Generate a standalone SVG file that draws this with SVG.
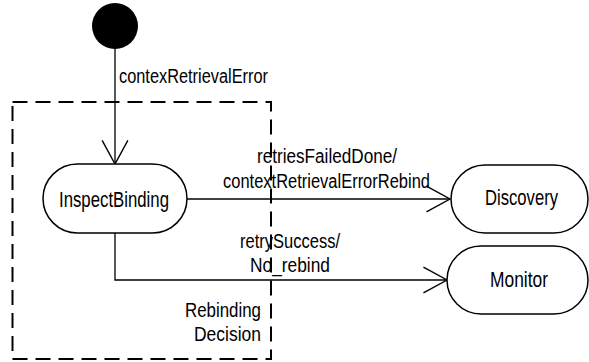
<svg xmlns="http://www.w3.org/2000/svg" width="589" height="362" viewBox="0 0 589 362">
<style>
  .node { fill: #fff; stroke: #000; stroke-width: 1.5; }
  .edge { fill: none; stroke: #000; stroke-width: 1.3; }
  .box { fill: none; stroke: #000; stroke-width: 2; stroke-dasharray: 15 8; }
  text { font-family: "Liberation Sans Narrow", "Liberation Sans", Arial, sans-serif; fill: #000; }
  .lbl { font-size: 19.5px; }
  .ntx { font-size: 22px; text-anchor: middle; }
</style>
<defs>
  <marker id="open" markerUnits="userSpaceOnUse" markerWidth="30" markerHeight="30" viewBox="-24 -14 26 28" refX="0" refY="0" orient="auto" overflow="visible">
    <path d="M -22 -12 L 0 0 L -22 12" fill="none" stroke="#000" stroke-width="1.3"/>
  </marker>
</defs>
<g id="rebinding-decision">
  <rect class="box" x="12.5" y="102" width="258.5" height="257"/>
  <text class="lbl" x="261" y="317" text-anchor="end" textLength="76" lengthAdjust="spacingAndGlyphs">Rebinding</text>
  <text class="lbl" x="261" y="341" text-anchor="end" textLength="67" lengthAdjust="spacingAndGlyphs">Decision</text>
</g>
<g id="connectors">
  <path class="edge" d="M115 48 L115 164" marker-end="url(#open)"/>
  <text class="lbl" x="119" y="83" textLength="149" lengthAdjust="spacingAndGlyphs">contexRetrievalError</text>
  <path class="edge" d="M187 199 L450 199" marker-end="url(#open)"/>
  <text class="lbl" x="257" y="163" textLength="140" lengthAdjust="spacingAndGlyphs">retriesFailedDone/</text>
  <text class="lbl" x="223" y="188" textLength="207" lengthAdjust="spacingAndGlyphs">contextRetrievalErrorRebind</text>
  <path class="edge" d="M115 233 L115 280 L447 280" marker-end="url(#open)"/>
  <text class="lbl" x="240" y="248" textLength="100" lengthAdjust="spacingAndGlyphs">retrySuccess/</text>
  <text class="lbl" x="250" y="272" textLength="80" lengthAdjust="spacingAndGlyphs">No_rebind</text>
</g>
<g id="initial">
  <circle cx="115" cy="26" r="23" fill="#000"/>
</g>
<g id="InspectBinding">
  <rect class="node" x="43" y="164" width="144" height="69" rx="34.5" ry="34.5"/>
  <text class="ntx" x="114" y="207" textLength="110" lengthAdjust="spacingAndGlyphs">InspectBinding</text>
</g>
<g id="Discovery">
  <rect class="node" x="451" y="165" width="137" height="68" rx="34" ry="34"/>
  <text class="ntx" x="521.5" y="205" textLength="73" lengthAdjust="spacingAndGlyphs">Discovery</text>
</g>
<g id="Monitor">
  <rect class="node" x="447" y="246" width="141" height="68" rx="34" ry="34"/>
  <text class="ntx" x="519" y="287" textLength="58" lengthAdjust="spacingAndGlyphs">Monitor</text>
</g>
</svg>
